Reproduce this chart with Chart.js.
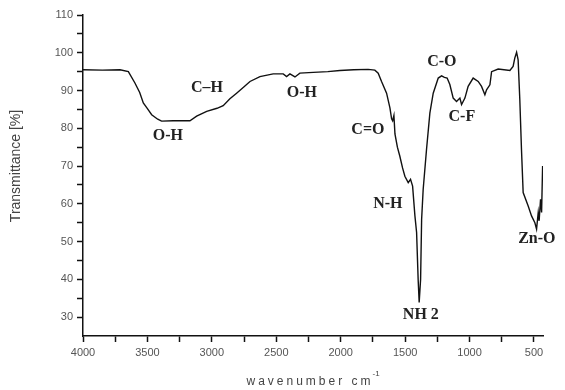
<!DOCTYPE html>
<html>
<head>
<meta charset="utf-8">
<script src="https://cdn.jsdelivr.net/npm/chart.js@4"></script>
<style>
  html, body { margin: 0; padding: 0; background: #fff; }
  #wrap { width: 565px; height: 390px; position: relative; }
</style>
</head>
<body>
<div id="wrap"><canvas id="irChart"></canvas></div>
<script>
// FTIR spectrum, values
const wavenumbers = [
  4000, 3850, 3713, 3648, 3597, 3560, 3532, 3500, 3467, 3420, 3390, 3300, 3170, 3118,
  3040, 2960, 2912, 2860, 2808, 2750, 2704, 2627, 2524, 2446, 2420, 2394, 2355, 2317,
  2213, 2100, 2006, 1900, 1787, 1735, 1709, 1683, 1644, 1618, 1605, 1597, 1587, 1579,
  1560, 1541, 1520, 1502, 1476, 1458, 1442, 1424, 1411, 1399, 1391, 1380, 1372, 1360,
  1334, 1308, 1282, 1243, 1217, 1195, 1174, 1153, 1127, 1101, 1075, 1062, 1036, 1011,
  972, 933, 907, 881, 868, 842, 829, 778, 687, 662, 649, 635, 623, 610,
  597, 584, 545, 519, 493, 480, 467, 460, 449, 441, 433
];
const transmittance = [
  95.5, 95.4, 95.5, 95.0, 92.0, 89.5, 86.7, 85.2, 83.6, 82.4, 81.9, 82.0, 82.0, 83.2,
  84.5, 85.3, 86.0, 87.8, 89.3, 91.0, 92.4, 93.7, 94.4, 94.4, 93.7, 94.4, 93.6, 94.6,
  94.8, 95.0, 95.3, 95.5, 95.6, 95.4, 94.6, 92.4, 89.3, 85.4, 82.5, 82.0, 83.4, 78.5,
  75.0, 72.6, 69.5, 67.3, 65.6, 66.5, 64.7, 56.8, 52.4, 40.0, 33.9, 40.0, 55.9, 63.8,
  74.4, 84.0, 89.3, 93.3, 93.9, 93.5, 93.3, 91.6, 88.0, 87.1, 88.0, 86.3, 88.0, 91.1,
  93.3, 92.4, 91.1, 88.9, 90.2, 91.5, 95.0, 95.7, 95.3, 96.4, 98.6, 100.1, 98.1, 87.6,
  74.4, 63.0, 59.4, 56.8, 55.0, 53.3, 57.7, 55.5, 61.2, 57.7, 70.0
];

// band assignments and where their labels sit (wavenumber, %T)
const bandLabels = ['O-H', 'C\u2013H', 'O-H', 'C=O', 'N-H', 'NH 2', 'C-O', 'C-F', 'Zn-O'];
const bandWavenumbers = [3341, 3038, 2301, 1789, 1634, 1378, 1215, 1060, 478];
const bandValues = [78.1, 90.7, 89.4, 79.7, 59.9, 30.6, 97.6, 83.1, 50.6];

const xTicks = [4000, 3750, 3500, 3250, 3000, 2750, 2500, 2250, 2000, 1750, 1500, 1250, 1000, 750, 500];
const yTicks = [30, 35, 40, 45, 50, 55, 60, 65, 70, 75, 80, 85, 90, 95, 100, 105, 110];

const points = wavenumbers.map((w, i) => ({ x: w, y: transmittance[i] }));

const annotatePlugin = {
  id: 'annotate',
  afterDraw(c) {
    const ctx = c.ctx;
    const xs = c.scales.x, ys = c.scales.y;
    ctx.save();
    ctx.fillStyle = '#222';
    ctx.font = 'bold 16px "Liberation Serif", "Times New Roman", serif';
    ctx.textAlign = 'center';
    ctx.textBaseline = 'middle';
    bandLabels.forEach((t, i) => {
      ctx.fillText(t, xs.getPixelForValue(bandWavenumbers[i]), ys.getPixelForValue(bandValues[i]));
    });

    // y title
    ctx.fillStyle = '#444';
    ctx.font = '14px "Liberation Sans", Arial, sans-serif';
    ctx.translate(16, 166);
    ctx.rotate(-Math.PI / 2);
    ctx.fillText('Transmittance [%]', 0, 0);
    ctx.restore();

    // x title, spaced out like the original
    ctx.save();
    ctx.fillStyle = '#444';
    ctx.font = '12px "Liberation Sans", Arial, sans-serif';
    ctx.letterSpacing = '3px';
    ctx.textAlign = 'left';
    ctx.textBaseline = 'middle';
    const title = 'wavenumber cm';
    const w = ctx.measureText(title).width;
    const x0 = 310 - w / 2;
    ctx.fillText(title, x0, 382);
    ctx.letterSpacing = '0px';
    ctx.font = '8px "Liberation Sans", Arial, sans-serif';
    ctx.fillText('-1', x0 + w - 1, 374);
    ctx.restore();
  }
};

new Chart(document.getElementById('irChart'), {
  type: 'line',
  data: {
    datasets: [{
      data: points,
      borderColor: '#111',
      borderWidth: 1.4,
      pointRadius: 0,
      tension: 0,
      fill: false
    }]
  },
  options: {
    responsive: true,
    maintainAspectRatio: false,
    animation: false,
    layout: { padding: { top: 15, right: 22, bottom: 0, left: 0 } },
    plugins: { legend: { display: false }, tooltip: { enabled: false } },
    scales: {
      x: {
        type: 'linear',
        reverse: true,
        min: 430,
        max: 4000,
        afterBuildTicks: s => { s.ticks = xTicks.map(v => ({ value: v })); },
        afterFit: s => { s.height = 54; },
        border: { display: true, color: '#111', width: 1.5 },
        grid: { drawOnChartArea: false, drawTicks: true, tickLength: 6, tickColor: '#111', tickWidth: 1.5 },
        ticks: {
          autoSkip: false,
          maxRotation: 0,
          color: '#555',
          padding: 4,
          font: { family: '"Liberation Sans", Arial, sans-serif', size: 11 },
          callback: v => (v % 500 === 0 ? String(v) : '')
        }
      },
      y: {
        min: 25,
        max: 110,
        afterBuildTicks: s => { s.ticks = yTicks.map(v => ({ value: v })); },
        afterFit: s => { s.width = 83; },
        border: { display: true, color: '#111', width: 1.5 },
        grid: { drawOnChartArea: false, drawTicks: true, tickLength: 6, tickColor: '#111', tickWidth: 1.5 },
        ticks: {
          autoSkip: false,
          color: '#555',
          padding: 4,
          font: { family: '"Liberation Sans", Arial, sans-serif', size: 11 },
          callback: v => (v % 10 === 0 ? String(v) : '')
        }
      }
    }
  },
  plugins: [annotatePlugin]
});
</script>
</body>
</html>
